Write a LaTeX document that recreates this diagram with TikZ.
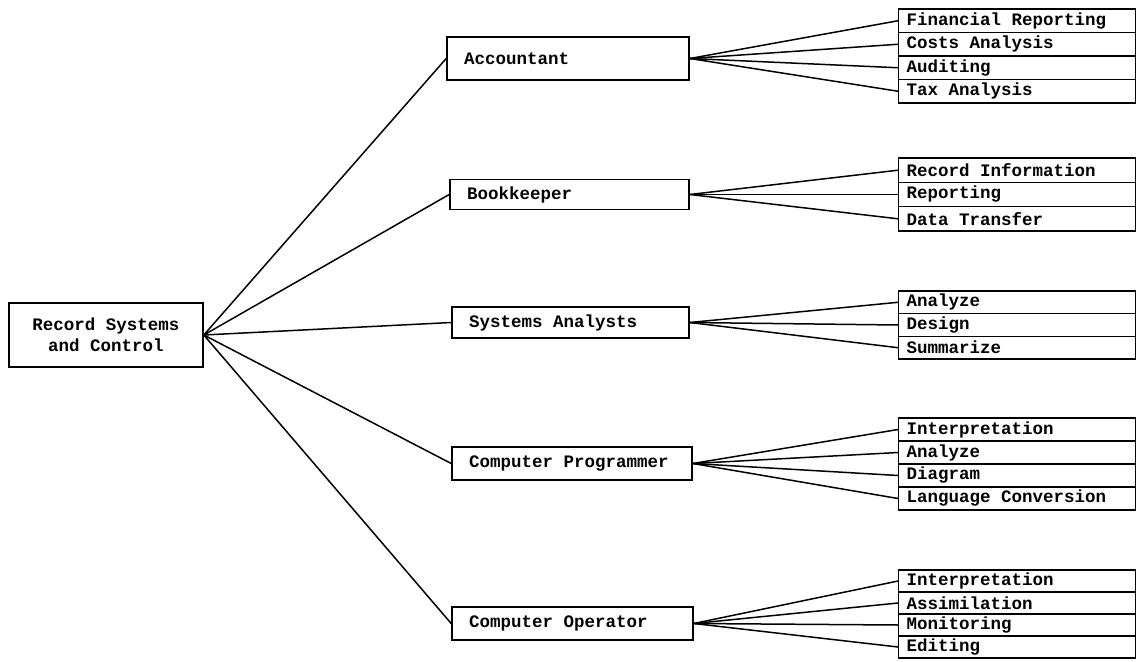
\documentclass[tikz,border=0pt]{standalone}
\usepackage{fontspec}
\setmonofont{Liberation Mono}
\newcommand\lefttext[2]{\makebox[#1][l]{#2}}
\begin{document}
\begin{tikzpicture}[x=1pt,y=-1pt,
  every node/.style={font=\fontsize{17.5}{21}\selectfont\ttfamily\bfseries},
  mainbox/.style={draw,line width=1.6pt,inner ysep=0pt,inner xsep=17pt},
  rootbox/.style={draw,line width=1.6pt,inner sep=0pt,align=center,minimum width=194pt,minimum height=64pt},
  rowbox/.style={draw,line width=1.3pt,inner ysep=0pt,inner xsep=8pt,anchor=west},
  link/.style={line width=1.5pt}]
\useasboundingbox (0,0) rectangle (1137,661);

% root
\node[rootbox] (root) at (106,335) {Record Systems\\and Control};

% middle boxes
\node[mainbox,minimum height=43pt] (acc) at (568,58.5) {\lefttext{208pt}{Accountant}};
\node[mainbox,minimum height=30pt] (book) at (569.5,194.5) {\lefttext{205pt}{Bookkeeper}};
\node[mainbox,minimum height=31pt] (sys) at (570.5,322.5) {\lefttext{203pt}{Systems Analysts}};
\node[mainbox,minimum height=33pt] (prog) at (572,463.5) {\lefttext{206pt}{Computer Programmer}};
\node[mainbox,minimum height=33pt] (oper) at (572.5,623.5) {\lefttext{207pt}{Computer Operator}};

% sub boxes: Accountant
\node[rowbox,minimum height=23.5pt] (a1) at (898,20.75) {\lefttext{221pt}{Financial Reporting}};
\node[rowbox,minimum height=23.5pt] (a2) at (898,44.25) {\lefttext{221pt}{Costs Analysis}};
\node[rowbox,minimum height=23.5pt] (a3) at (898,67.75) {\lefttext{221pt}{Auditing}};
\node[rowbox,minimum height=23.5pt] (a4) at (898,91.25) {\lefttext{221pt}{Tax Analysis}};

% Bookkeeper
\node[rowbox,minimum height=24.3pt] (b1) at (898,170.2) {\lefttext{221pt}{Record Information}};
\node[rowbox,minimum height=24.3pt] (b2) at (898,194.5) {\lefttext{221pt}{Reporting}};
\node[rowbox,minimum height=24.3pt] (b3) at (898,218.8) {\lefttext{221pt}{Data Transfer}};

% Systems Analysts
\node[rowbox,minimum height=22.7pt] (s1) at (898,302.3) {\lefttext{221pt}{Analyze}};
\node[rowbox,minimum height=22.7pt] (s2) at (898,325) {\lefttext{221pt}{Design}};
\node[rowbox,minimum height=22.7pt] (s3) at (898,347.7) {\lefttext{221pt}{Summarize}};

% Computer Programmer
\node[rowbox,minimum height=23pt] (p1) at (898,429.5) {\lefttext{221pt}{Interpretation}};
\node[rowbox,minimum height=23pt] (p2) at (898,452.5) {\lefttext{221pt}{Analyze}};
\node[rowbox,minimum height=23pt] (p3) at (898,475.5) {\lefttext{221pt}{Diagram}};
\node[rowbox,minimum height=23pt] (p4) at (898,498.5) {\lefttext{221pt}{Language Conversion}};

% Computer Operator
\node[rowbox,minimum height=22pt] (o1) at (898,581) {\lefttext{221pt}{Interpretation}};
\node[rowbox,minimum height=22pt] (o2) at (898,603) {\lefttext{221pt}{Assimilation}};
\node[rowbox,minimum height=22pt] (o3) at (898,625) {\lefttext{221pt}{Monitoring}};
\node[rowbox,minimum height=22pt] (o4) at (898,647) {\lefttext{221pt}{Editing}};

% connectors from root
\foreach \t in {acc,book,sys,prog,oper}
  \draw[link] (root.east) -- (\t.west);

% fans
\foreach \t in {a1,a2,a3,a4} \draw[link] (acc.east) -- (\t.west);
\foreach \t in {b1,b2,b3} \draw[link] (book.east) -- (\t.west);
\foreach \t in {s1,s2,s3} \draw[link] (sys.east) -- (\t.west);
\foreach \t in {p1,p2,p3,p4} \draw[link] (prog.east) -- (\t.west);
\foreach \t in {o1,o2,o3,o4} \draw[link] (oper.east) -- (\t.west);
\end{tikzpicture}
\end{document}
